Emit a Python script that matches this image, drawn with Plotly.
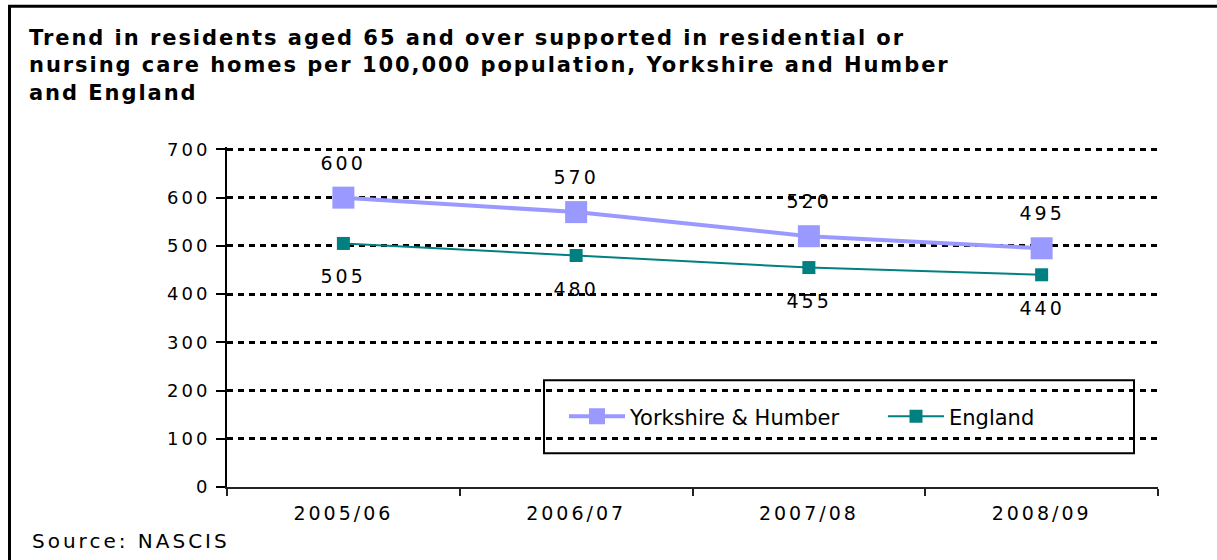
import plotly.graph_objects as go

# Financial years on the category axis
years = ["2005/06", "2006/07", "2007/08", "2008/09"]

# Residents aged 65+ in residential / nursing care homes per 100,000 population
yorkshire_humber = [600, 570, 520, 495]
england = [505, 480, 455, 440]

y_ticks = [0, 100, 200, 300, 400, 500, 600, 700]

FONT = "DejaVu Sans"
YH_COLOR = "#9999FF"
ENG_COLOR = "#008080"

# Plot-area geometry in pixels (figure is 1217 x 560)
W, H = 1217, 560
L, R = 227, 1158          # left / right edges of the plot area
Y0_PX = 486.7             # pixel row of y = 0
PX_PER_UNIT = 337.2 / 700
Y_TOP = 705               # a little headroom so the 700 gridline is drawn
T_PX = Y0_PX - Y_TOP * PX_PER_UNIT
PH = Y0_PX - T_PX


def px_x(p):
    return (p - L) / (R - L)


def px_y(p):
    return (Y0_PX - p) / PH


fig = go.Figure()

fig.add_trace(go.Scatter(
    x=years, y=yorkshire_humber, name="Yorkshire & Humber",
    mode="lines+markers",
    line=dict(color=YH_COLOR, width=4),
    marker=dict(symbol="square", size=22, color=YH_COLOR),
))
fig.add_trace(go.Scatter(
    x=years, y=england, name="England",
    mode="lines+markers",
    line=dict(color=ENG_COLOR, width=2),
    marker=dict(symbol="square", size=13, color=ENG_COLOR),
))

# Value labels: above the regional series, below the national series
annotations = []
for yr, v in zip(years, yorkshire_humber):
    annotations.append(dict(x=yr, y=v, xref="x", yref="y", text=str(v),
                            showarrow=False, yshift=35,
                            font=dict(family=FONT, size=19, color="black")))
for yr, v in zip(years, england):
    annotations.append(dict(x=yr, y=v, xref="x", yref="y", text=str(v),
                            showarrow=False, yshift=-33,
                            font=dict(family=FONT, size=19, color="black")))

# Chart title and source note
annotations.append(dict(
    xref="paper", yref="paper", x=px_x(27), y=px_y(24),
    xanchor="left", yanchor="top", align="left", showarrow=False,
    text=("Trend in residents aged 65 and over supported in residential or<br>"
          "nursing care homes per 100,000 population, Yorkshire and Humber<br>"
          "and England"),
    font=dict(family=FONT, size=21, color="black", weight="bold"),
))
annotations.append(dict(
    xref="paper", yref="paper", x=px_x(30), y=px_y(541),
    xanchor="left", yanchor="middle", align="left", showarrow=False,
    text="Source: NASCIS",
    font=dict(family=FONT, size=20, color="black"),
))

shapes = [
    # outer frame: left and top edges
    dict(type="line", xref="paper", yref="paper",
         x0=px_x(9.5), x1=px_x(9.5), y0=px_y(6.5), y1=px_y(600),
         line=dict(color="black", width=3)),
    dict(type="line", xref="paper", yref="paper",
         x0=px_x(8), x1=px_x(1300), y0=px_y(6.5), y1=px_y(6.5),
         line=dict(color="black", width=3)),
    # legend box
    dict(type="rect", xref="paper", yref="paper",
         x0=px_x(544), x1=px_x(1134), y0=px_y(453), y1=px_y(380),
         line=dict(color="black", width=2), fillcolor="white", layer="below"),
]

fig.update_layout(
    width=W, height=H,
    margin=dict(l=L, r=W - R, t=T_PX, b=H - Y0_PX),
    paper_bgcolor="white", plot_bgcolor="rgba(0,0,0,0)",
    font=dict(family=FONT, size=20, color="black"),
    showlegend=True,
    legend=dict(
        orientation="h", x=px_x(564), y=px_y(416.5),
        xanchor="left", yanchor="middle",
        bgcolor="rgba(0,0,0,0)", borderwidth=0,
        font=dict(family=FONT, size=21, color="black"),
        itemwidth=56,
        entrywidth=248, entrywidthmode="pixels",
    ),
    annotations=annotations,
    shapes=shapes,
)

fig.update_xaxes(
    type="category", range=[-0.5, 3.5],
    showline=True, linecolor="#222222", linewidth=2,
    ticks="outside", tickson="boundaries", ticklen=7, tickwidth=2, tickcolor="#222222",
    showgrid=False, zeroline=False,
    tickfont=dict(family=FONT, size=19, color="black"),
    ticklabelstandoff=8,
)
fig.update_yaxes(
    range=[0, Y_TOP], tickvals=y_ticks,
    showline=True, linecolor="black", linewidth=2,
    ticks="outside", ticklen=9, tickwidth=2, tickcolor="black",
    showgrid=True, gridcolor="black", gridwidth=3, griddash="6px,5px",
    zeroline=False,
    tickfont=dict(family=FONT, size=18, color="black"),
    ticklabelstandoff=2,
)

# Widen the lettering of the axis labels, value labels, title and source
spacing_js = """
var gd = document.querySelector('.plotly-graph-div');
function sp(sel, v) {
  gd.querySelectorAll(sel).forEach(function (t) { t.style.letterSpacing = v; });
}
sp('.xtick text', '3px');
sp('.ytick text', '3px');
sp('.annotation-text', '3px');
var ann = gd.querySelectorAll('.annotation');
ann[ann.length - 2].querySelector('.annotation-text').style.letterSpacing = '1.95px';
ann[ann.length - 1].querySelector('.annotation-text').style.letterSpacing = '3px';
"""

fig.write_html("out.html", post_script=spacing_js)
